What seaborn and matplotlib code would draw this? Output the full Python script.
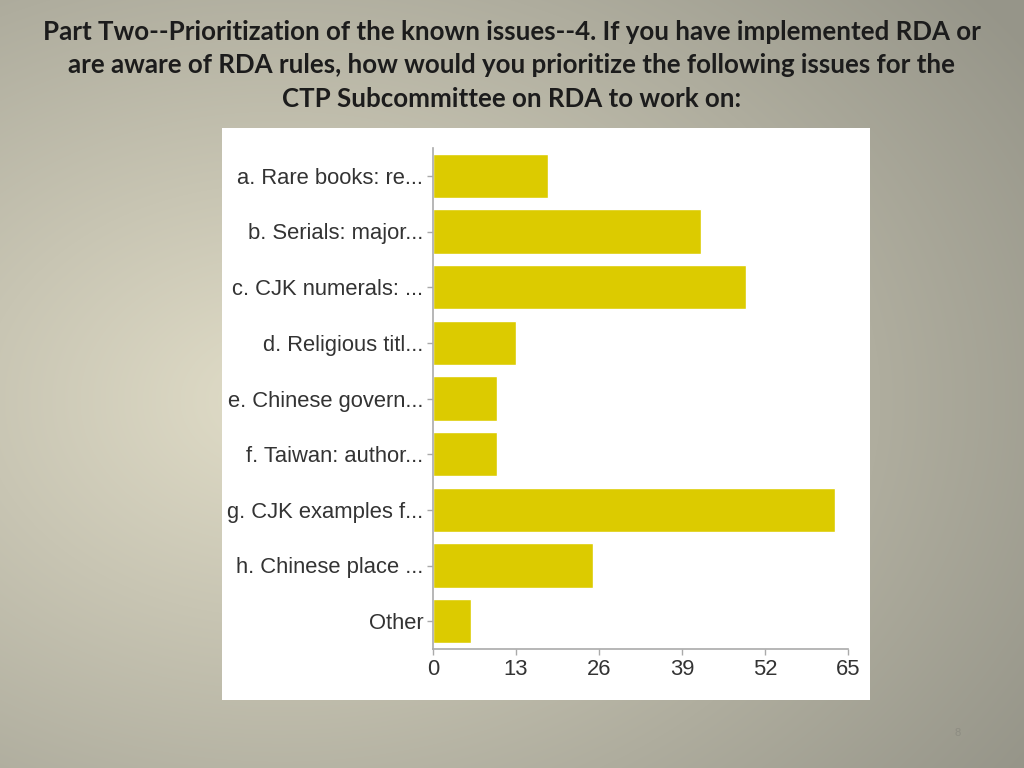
import numpy as np
import pandas as pd
import matplotlib
matplotlib.use("Agg")
import matplotlib.pyplot as plt
import seaborn as sns

categories = [
    "a. Rare books: re...",
    "b. Serials: major...",
    "c. CJK numerals: ...",
    "d. Religious titl...",
    "e. Chinese govern...",
    "f. Taiwan: author...",
    "g. CJK examples f...",
    "h. Chinese place ...",
    "Other",
]
counts = [18, 42, 49, 13, 10, 10, 63, 25, 6]
xticks = [0, 13, 26, 39, 52, 65]

title = ("Part Two--Prioritization of the known issues--4. If you have implemented RDA or\n"
         "are aware of RDA rules, how would you prioritize the following issues for the\n"
         "CTP Subcommittee on RDA to work on:")


def main():
    sns.set_theme(style="white")
    plt.rcParams['font.family'] = ['Liberation Sans', 'DejaVu Sans']

    fig = plt.figure(figsize=(10.24, 7.68), dpi=100)

    # slide background: soft radial gradient
    bg = fig.add_axes([0, 0, 1, 1])
    yy, xx = np.mgrid[0:768, 0:1024]
    r = np.sqrt(((xx - 280) / 900.0) ** 2 + ((yy - 400) / 650.0) ** 2)
    r = np.clip(r, 0, 1)
    c0 = np.array([225, 221, 200]) / 255.0
    c1 = np.array([150, 149, 137]) / 255.0
    img = c0[None, None, :] * (1 - r[..., None]) + c1[None, None, :] * r[..., None]
    bg.imshow(img, aspect='auto', extent=[0, 1, 0, 1])
    bg.set_axis_off()

    fig.text(0.5, 0.974, title, ha='center', va='top', fontsize=18.6, fontweight='bold',
             color='#1c1c1c', linespacing=1.47, family=['Lato', 'DejaVu Sans'])
    fig.text(0.935, 0.045, "8", ha='center', va='center', fontsize=8, color='#8d8c82')

    # white chart panel
    panel = fig.add_axes([222 / 1024, 68 / 768, 648 / 1024, 572 / 768])
    panel.set_facecolor('white')
    panel.set_xticks([])
    panel.set_yticks([])
    for s in panel.spines.values():
        s.set_visible(False)

    ax = fig.add_axes([433 / 1024, 119 / 768, 415 / 1024, 501 / 768])
    df = pd.DataFrame({"issue": categories, "count": counts})
    sns.barplot(data=df, y="issue", x="count", color="#dccb00", saturation=1,
                width=0.8, ax=ax)
    ax.set_facecolor('none')
    ax.set_xlim(0, 65)
    ax.set_xticks(xticks)
    ax.set_xlabel('')
    ax.set_ylabel('')
    for side in ['top', 'right']:
        ax.spines[side].set_visible(False)
    for side in ['left', 'bottom']:
        ax.spines[side].set_color('#aaaaaa')
        ax.spines[side].set_linewidth(1.2)
    ax.tick_params(axis='both', which='both', length=4, color='#aaaaaa', width=1,
                   labelsize=15.8, labelcolor='#333333', pad=3, bottom=True, left=True)

    fig.savefig("out.png", dpi=100)


if __name__ == "__main__":
    main()
